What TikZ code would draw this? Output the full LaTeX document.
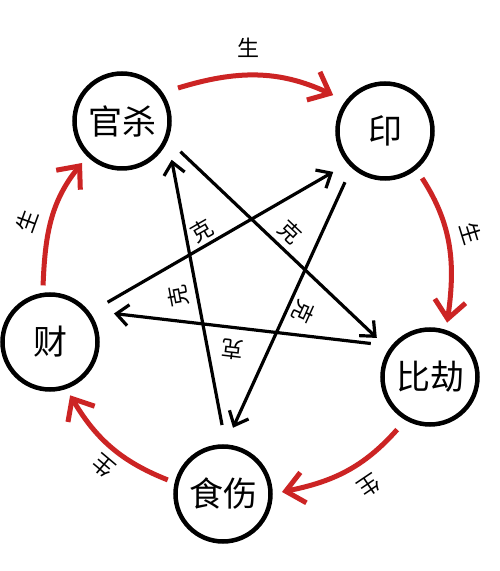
\documentclass[tikz,border=0pt]{standalone}
\usepackage{fontspec}
\newfontfamily\cjk{Noto Sans CJK SC}
\usetikzlibrary{arrows.meta,calc}
\definecolor{shengred}{RGB}{204,36,36}
\begin{document}
\begin{tikzpicture}[x=1pt,y=1pt,
  elem/.style={circle,draw=black,line width=4.5pt,minimum size=95pt,inner sep=0pt,
    font=\cjk\fontsize{34}{34}\selectfont},
  sheng/.style={draw=shengred,line width=5pt,-{Straight Barb[length=18pt,width=31pt]}},
  ke/.style={draw=black,line width=3.2pt,-{Straight Barb[length=12pt,width=21pt]}},
  lbl/.style={font=\cjk\fontsize{22}{22}\selectfont,inner sep=0pt},
  kelbl/.style={lbl,sloped,allow upside down}
]
\useasboundingbox[fill=white] (0,0) rectangle (499,571);

\node[elem] (gs)  at (122,450) {官杀};
\node[elem] (yin) at (385,440) {印};
\node[elem] (bj)  at (430,194) {比劫};
\node[elem] (ss)  at (223,77)  {食伤};
\node[elem] (cai) at (50,229)  {财};

% sheng (red) cycle
\draw[sheng] ($(gs)+(30.5:65)$)  to[out=17,in=155]     ($(yin)+(145.3:63)$);
\draw[sheng] ($(yin)+(-51.8:60)$) to[out=-57,in=82]    ($(bj)+(72.5:57)$);
\draw[sheng] ($(bj)+(238:62)$)    to[out=-131.5,in=11.4] ($(ss)+(2:59)$);
\draw[sheng] ($(ss)+(165.7:57)$)  to[out=158.4,in=-59.3] ($(cai)+(-69.3:57)$);
\draw[sheng] ($(cai)+(97:57)$)    to[out=87.7,in=231]  ($(gs)+(226.4:58)$);

\node[lbl] (s1) at (248,523) {生};
\node[lbl,rotate=-73] (s2) at (471,338) {生};
\node[lbl,rotate=-146] (s3) at (369,85) {生};
\node[lbl,rotate=140] (s4) at (103,105) {生};
\node[lbl,rotate=70] (s5) at (27,350) {生};

% ke (black) star
\draw[ke] ($(gs)+(-27.7:66)$) -- ($(bj)+(143.7:66)$) node[kelbl,pos=0.5,above=5.5pt] (k1) {克};
\draw[ke] ($(bj)+(150.5:68)$) -- ($(cai)+(24:70)$) node[kelbl,pos=0.53,above=10pt] (k2) {克};
\draw[ke] ($(cai)+(34.6:70)$) -- ($(yin)+(218.3:66)$) node[kelbl,pos=0.45,above=2.5pt] (k3) {克};
\draw[ke] ($(yin)+(232:65)$) -- ($(ss)+(81.4:67)$) node[kelbl,pos=0.5,above=4.5pt] (k4) {克};
\draw[ke] ($(ss)+(90.8:69)$) -- ($(gs)+(322:63)$) node[kelbl,pos=0.5,above=7pt] (k5) {克};
\end{tikzpicture}
\end{document}
